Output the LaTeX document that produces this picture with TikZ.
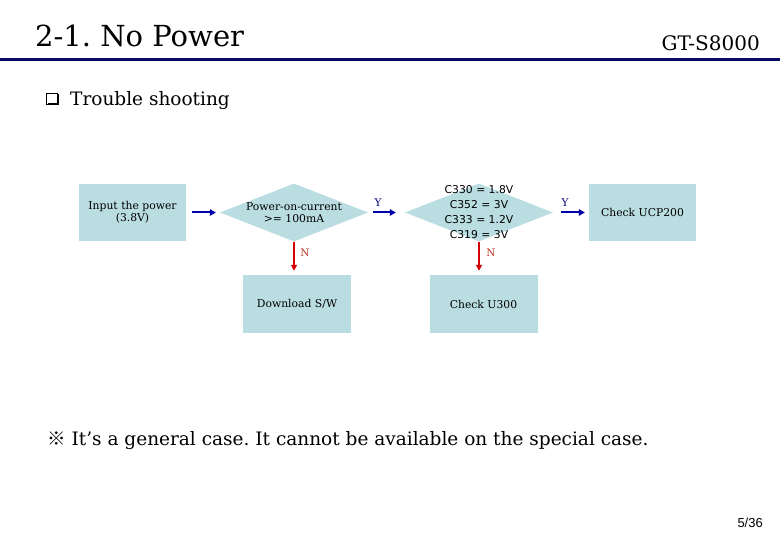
\documentclass[tikz,border=0pt]{standalone}
\usepackage{fontspec}
\setmainfont{DejaVu Serif}
\newfontfamily\dvsans{DejaVu Sans}
\newfontfamily\libsans{Liberation Sans}
\newfontfamily\cjk{Noto Sans CJK SC}
\usetikzlibrary{shapes.geometric,arrows.meta}
\definecolor{boxfill}{RGB}{186,221,226}
\definecolor{navy}{RGB}{10,10,100}
\definecolor{arrblue}{RGB}{0,0,170}
\definecolor{arrred}{RGB}{210,0,0}
\definecolor{nred}{RGB}{190,60,40}
\definecolor{ynavy}{RGB}{0,0,120}
\tikzset{
  stepbox/.style={draw=none,fill=boxfill,minimum width=107pt,minimum height=57pt,inner sep=0pt,align=center,font=\fontsize{10.8}{12}\selectfont},
  dia/.style={shape=diamond,draw=none,fill=boxfill,inner sep=0pt,minimum width=148pt,minimum height=58pt},
  diatext/.style={align=center,inner sep=0pt},
  barrow/.style={draw=arrblue,line width=2pt,-{Triangle[length=6pt,width=6.5pt]}},
  rarrow/.style={draw=arrred,line width=1.6pt,-{Triangle[length=6pt,width=6pt]}},
  ylab/.style={text=ynavy,font=\fontsize{10.5}{12}\selectfont,inner sep=0pt},
  nlab/.style={text=nred,font=\fontsize{10.5}{12}\selectfont,inner sep=0pt},
}
\frenchspacing
\begin{document}
\begin{tikzpicture}[x=1pt,y=-1pt]
\useasboundingbox (0,0) rectangle (780,540);
% header
\node[anchor=base west,inner sep=0pt,font=\fontsize{29}{32}\selectfont] (title) at (35,47) {2-1. No Power};
\node[anchor=base east,inner sep=0pt,font=\fontsize{20}{22}\selectfont] (model) at (760,51) {GT-S8000};
\draw[navy,line width=3pt] (0,60) -- (780,60);
% bullet
\coordinate (cb) at (52,99);
\fill[black] (47.5,94.5) rectangle (58.5,105.5);
\fill[white] (46.5,93.5) rectangle (56.5,103.5);
\draw[black,line width=0.8pt] (46.5,93.5) rectangle (57,104);
\node[anchor=base west,inner sep=0pt,font=\fontsize{18.5}{20}\selectfont] (ts) at (70,106) {Trouble shooting};
% flowchart
\node[stepbox] (input) at (132.5,212.5) {Input the power\\(3.8V)};
\node[dia] (d1) at (294,212.5) {};
\node[diatext,font=\fontsize{10.8}{12.5}\selectfont] (d1t) at (d1.center) {Power-on-current\\>= 100mA};
\node[dia] (d2) at (479,212.5) {};
\node[diatext,font=\dvsans\fontsize{10.8}{15}\selectfont] (d2t) at (d2.center) {C330 = 1.8V\\C352 = 3V\\C333 = 1.2V\\C319 = 3V};
\node[stepbox] (ucp) at (642.5,212.5) {Check UCP200};
\node[stepbox,minimum width=108pt,minimum height=58pt] (dl) at (297,304) {Download S/W};
\node[stepbox,minimum width=108pt,minimum height=58pt] (u300) at (483.5,304) {Check U300};
% connectors
\draw[barrow,shorten <=6pt,shorten >=4pt] (input.east) -- (d1.west);
\draw[barrow,shorten <=5pt,shorten >=9pt] (d1.east) -- (d2.west);
\draw[barrow,shorten <=8pt,shorten >=4pt] (d2.east) -- (ucp.west);
\draw[rarrow,shorten >=4pt] (d1.south) -- (d1.south |- dl.north);
\draw[rarrow,shorten >=4pt] (d2.south) -- (d2.south |- u300.north);
\node[ylab] (y1) at (378,203) {Y};
\node[ylab] (y2) at (565,203) {Y};
\node[nlab] (n1) at (305,253) {N};
\node[nlab] (n2) at (491,253) {N};
% note
\node[anchor=base west,inner sep=0pt,font=\fontsize{18.5}{20}\selectfont] (note) at (47,446) {{\cjk ※} It's a general case. It cannot be available on the special case.};
\node[anchor=base east,inner sep=0pt,font=\libsans\fontsize{13}{15}\selectfont] (page) at (763,527) {5/36};
\end{tikzpicture}
\end{document}
